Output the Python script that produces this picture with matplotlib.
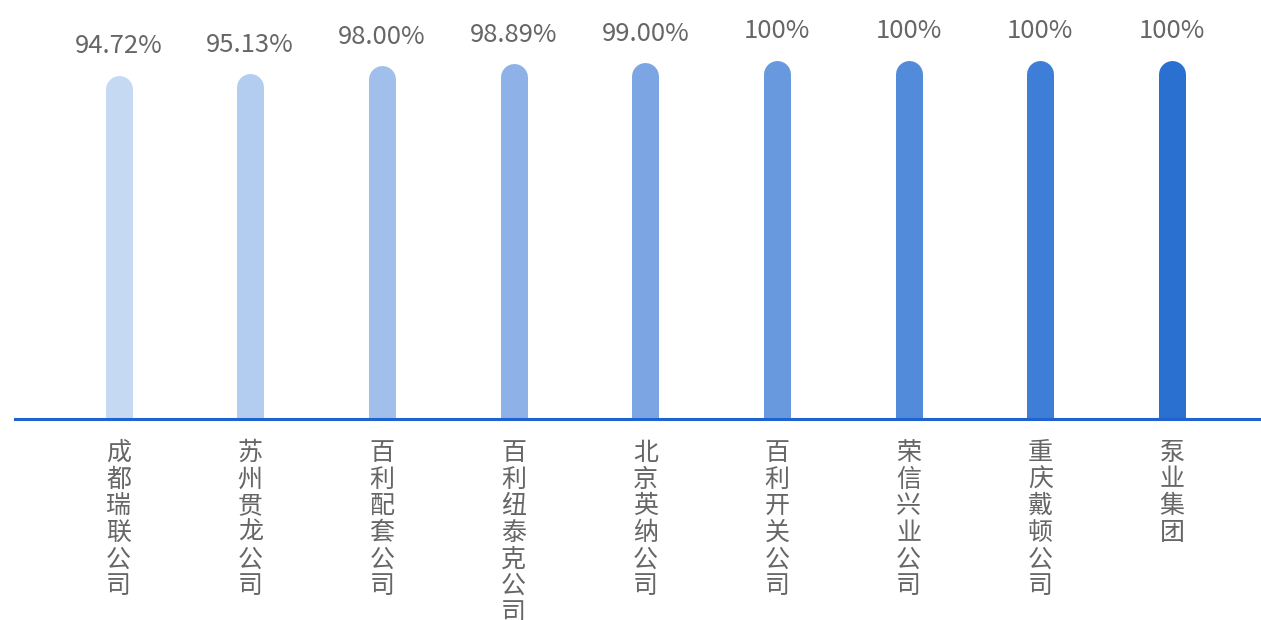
import matplotlib
matplotlib.use('Agg')
import matplotlib.pyplot as plt

plt.rcParams['font.family'] = ['Noto Sans CJK SC', 'DejaVu Sans']

companies = ['成都瑞联公司', '苏州贯龙公司', '百利配套公司', '百利纽泰克公司', '北京英纳公司',
             '百利开关公司', '荣信兴业公司', '重庆戴顿公司', '泵业集团']
rates = [94.72, 95.13, 98.00, 98.89, 99.00, 100, 100, 100, 100]
labels = ['94.72%', '95.13%', '98.00%', '98.89%', '99.00%', '100%', '100%', '100%', '100%']
colors = ['#C5D9F2', '#B3CDF0', '#A1BFEB', '#8EB2E8', '#7CA5E3',
          '#6899DE', '#538BDB', '#3E7ED6', '#2A70D0']

base = -22  # value axis starts below zero, like the original
dpi = 100
fig = plt.figure(figsize=(12.61, 6.20), dpi=dpi)
ax = fig.add_axes([15 / 1261, 200 / 620, 1246 / 1261, 420 / 620])
ax.set_xlim(-0.786, 8.675)
ax.set_ylim(base, base + 420 / 2.84)
ax.axis('off')

bar_w = 27 * 72 / dpi  # line width in points -> 27 px
for i, (v, c) in enumerate(zip(rates, colors)):
    # thick line with round cap, bottom cap gets clipped by the axes
    ax.plot([i, i], [base - 10, v], color=c, lw=bar_w, solid_capstyle='round', zorder=2)
    ax.annotate(labels[i], (i, v), xytext=(0, 21), textcoords='offset points',
                ha='center', va='bottom', fontsize=18.5, color='#666666',
                fontweight='light', annotation_clip=False)
    ax.text(i, base - 20 / 2.84, '\n'.join(companies[i]), ha='center', va='top',
            fontsize=18, color='#666666', linespacing=1.03, fontweight='light',
            clip_on=False)

ax.axhline(base + 0.3, color='#1F63D1', lw=2.2, zorder=3, clip_on=False)

fig.savefig('out.png', dpi=dpi)
